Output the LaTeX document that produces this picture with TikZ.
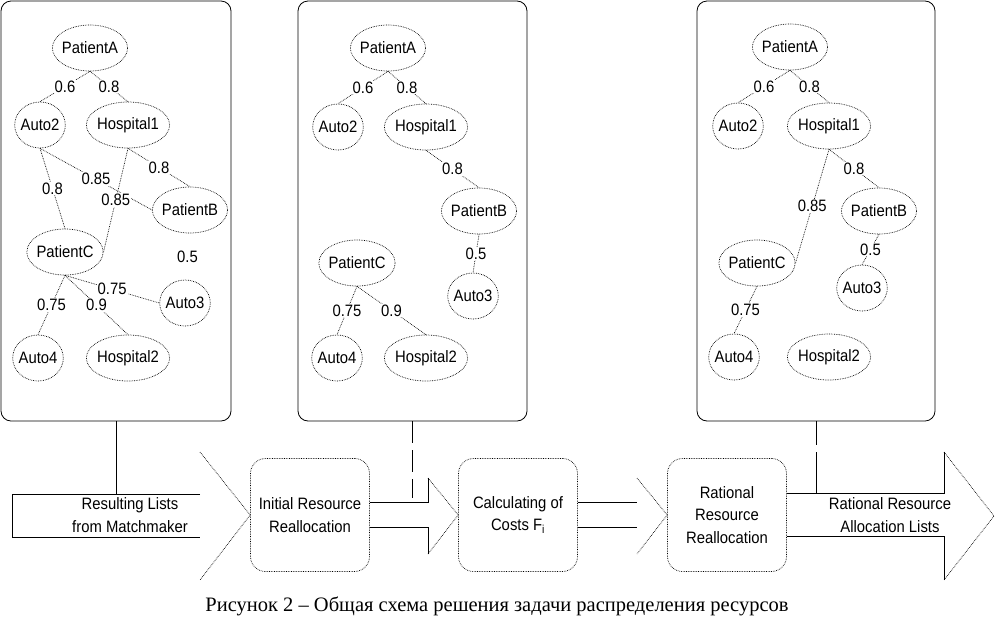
\documentclass[tikz,border=0pt]{standalone}
\usepackage{fontspec}
\setmainfont{Liberation Sans}[FakeStretch=0.9]
\newfontfamily\capfont{Liberation Serif}
\usetikzlibrary{positioning,shapes.geometric}

\begin{document}
\begin{tikzpicture}[x=1pt, y=-1pt,
  font=\fontsize{16.5}{22.5}\selectfont,
  panel/.style={draw, line width=0.8pt, rounded corners=10pt, minimum height=420pt, inner sep=0pt},
  res/.style={draw, ellipse, densely dotted, line width=0.7pt, inner xsep=-1.5pt, minimum height=46pt},
  link/.style={densely dotted, line width=0.7pt},
  lab/.style={fill=white, inner sep=1pt},
  stage/.style={draw, densely dotted, line width=0.7pt, rounded corners=15pt, minimum width=119pt, minimum height=113pt, align=center, inner sep=1pt},
  head/.style={densely dotted, line width=0.7pt},
  shaft/.style={line width=0.8pt}]
\useasboundingbox (0,0) rectangle (995,619);
% three allocation snapshots
\node[panel, minimum width=230pt] (p1) at (116,211) {};
\node[panel, minimum width=229pt] (p2) at (412.5,211) {};
\node[panel, minimum width=238pt] (p3) at (816,211) {};
% snapshot 1
\node[res] (patA1) at (90,48) {PatientA};
\node[res] (auto2-1) at (40,125) {Auto2};
\node[res] (hosp1-1) at (128,125) {Hospital1};
\node[res] (patB1) at (190,210) {PatientB};
\node[res] (patC1) at (65,252) {PatientC};
\node[res] (auto3-1) at (185,303) {Auto3};
\node[res] (auto4-1) at (38,358) {Auto4};
\node[res] (hosp2-1) at (128,358) {Hospital2};
\draw[link] (patA1.south) -- node[lab]{0.6} (auto2-1.north);
\draw[link] (patA1.south) -- node[lab]{0.8} (hosp1-1.north);
\draw[link] (hosp1-1.south) -- node[lab]{0.8} (patB1.north);
\draw[link] (auto2-1.south) -- node[lab]{0.8} (patC1.north);
\draw[link] (auto2-1.south) -- node[lab]{0.85} (patB1.west);
\draw[link] (hosp1-1.south) -- node[lab]{0.85} (patC1.east);
\path (patB1.south) -- node[lab]{0.5} (auto3-1.north);
\draw[link] (patC1.south) -- node[lab]{0.75} (auto4-1.north);
\draw[link] (patC1.south) -- node[lab]{0.9} (hosp2-1.north);
\draw[link] (patC1.south) -- node[lab]{0.75} (auto3-1.west);
% snapshot 2
\node[res] (patA2) at (388,48) {PatientA};
\node[res] (auto2-2) at (338,127) {Auto2};
\node[res] (hosp1-2) at (426,127) {Hospital1};
\node[res] (patB2) at (479,211) {PatientB};
\node[res] (patC2) at (357,263) {PatientC};
\node[res] (auto3-2) at (473,296) {Auto3};
\node[res] (auto4-2) at (337,358) {Auto4};
\node[res] (hosp2-2) at (426,358) {Hospital2};
\draw[link] (patA2.south) -- node[lab]{0.6} (auto2-2.north);
\draw[link] (patA2.south) -- node[lab]{0.8} (hosp1-2.north);
\draw[link] (hosp1-2.south) -- node[lab]{0.8} (patB2.north);
\draw[link] (patB2.south) -- node[lab]{0.5} (auto3-2.north);
\draw[link] (patC2.south) -- node[lab]{0.75} (auto4-2.north);
\draw[link] (patC2.south) -- node[lab]{0.9} (hosp2-2.north);
% snapshot 3
\node[res] (patA3) at (790,47) {PatientA};
\node[res] (auto2-3) at (738,126) {Auto2};
\node[res] (hosp1-3) at (829,126) {Hospital1};
\node[res] (patB3) at (879,211) {PatientB};
\node[res] (patC3) at (757,263) {PatientC};
\node[res] (auto3-3) at (862,288) {Auto3};
\node[res] (auto4-3) at (734,357) {Auto4};
\node[res] (hosp2-3) at (829,357) {Hospital2};
\draw[link] (patA3.south) -- node[lab]{0.6} (auto2-3.north);
\draw[link] (patA3.south) -- node[lab]{0.8} (hosp1-3.north);
\draw[link] (hosp1-3.south) -- node[lab]{0.8} (patB3.north);
\draw[link] (hosp1-3.south) -- node[lab]{0.85} (patC3.east);
\draw[link] (patB3.south) -- node[lab]{0.5} (auto3-3.north);
\draw[link] (patC3.south) -- node[lab]{0.75} (auto4-3.north);
% process chain
\node[align=center] (lists) at (130,515) {Resulting Lists\\from Matchmaker};
\node[stage] (init) at (310,515) {Initial Resource\\Reallocation};
\node[stage] (cost) at (518,515) {Calculating of\\Costs F\textsubscript{i}};
\node[stage] (rat) at (727,515) {Rational\\Resource\\Reallocation};
\node[align=center] (out) at (890,515) {Rational Resource\\Allocation Lists};
\coordinate (tip) at (994,516);
\draw[shaft] (200,494) -- (12,494) -- (12,537) -- (200,537);
\draw[head] (200,452) -- (init.west) -- (200,580);
\draw[shaft] ([yshift=12.5pt]init.east) -- (428,502.5) -- (428,478);
\draw[head] (428,478) -- (cost.west) -- (428,554);
\draw[shaft] (428,554) -- (428,527.5) -- ([yshift=-12.5pt]init.east);
\draw[shaft] ([yshift=12.5pt]cost.east) -- (637,502.5);
\draw[shaft] ([yshift=-12.5pt]cost.east) -- (637,527.5);
\draw[head] (637,478) -- (rat.west) -- (637,554);
\draw[shaft] ([yshift=21.5pt]rat.east) -- (944,493.5) -- (944,452);
\draw[head] (944,452) -- (tip) -- (944,580);
\draw[shaft] (944,580) -- (944,536.5) -- ([yshift=-21.5pt]rat.east);
% snapshots to chain
\draw[shaft] (p1.south) -- ++(0,73);
\draw[shaft, dash pattern=on 22pt off 7pt] (p2.south) -- ++(0,77);
\draw[shaft, dash pattern=on 24pt off 7pt on 60pt off 7pt] (p3.south) -- ++(0,73);
\node[font=\capfont\fontsize{20.5}{24}\selectfont] (caption) at (497,606) {Рисунок 2 – Общая схема решения задачи распределения ресурсов};
\end{tikzpicture}
\end{document}
